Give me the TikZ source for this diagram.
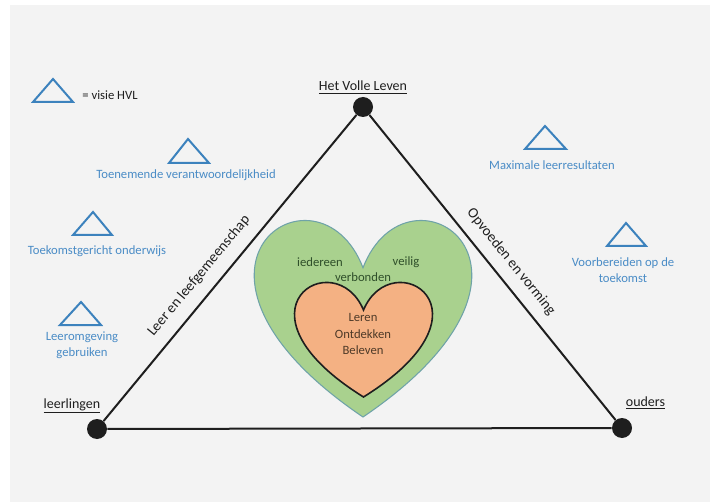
\documentclass[tikz,border=0pt]{standalone}
\usepackage{fontspec}
\setmainfont{Carlito}
\usetikzlibrary{calc}
\definecolor{paper}{HTML}{F3F3F3}
\definecolor{visblue}{HTML}{3C82BD}
\definecolor{vistext}{HTML}{4A8CC6}
\definecolor{heartgreen}{HTML}{A9D18E}
\definecolor{heartedge}{HTML}{6FA3A8}
\definecolor{heartorange}{HTML}{F4B183}
\definecolor{greentext}{HTML}{2F4F2A}
\definecolor{browntext}{HTML}{4E3A28}
\definecolor{inkline}{HTML}{1E1E1E}
\tikzset{
  vistri/.style={draw=visblue, line width=1.5pt, line join=miter},
  vislabel/.style={text=vistext, font=\fontsize{9.5}{12}\selectfont, align=center, inner sep=0pt},
  vertexdot/.style={circle, fill=inkline, minimum size=15pt, inner sep=0pt},
  edgeline/.style={draw=inkline, line width=1.5pt},
  cornerlabel/.style={text=inkline, font=\fontsize{10.5}{12}\selectfont, inner sep=0pt, anchor=base},
  edgelabel/.style={text=inkline, font=\fontsize{11}{13}\selectfont, inner sep=0pt},
  hearttext/.style={font=\fontsize{9.5}{12.4}\selectfont, inner sep=0pt, align=center},
}
\begin{document}
\begin{tikzpicture}[x=0.75pt,y=-0.75pt]
% page
\fill[white] (0,0) rectangle (710,502);
\fill[paper] (10,5) rectangle (710,502);
\useasboundingbox (0,0) rectangle (710,502);

% vertices
\node[vertexdot] (hvl) at (363,107) {};
\node[vertexdot] (ll) at (97,429) {};
\node[vertexdot] (ou) at (622,428) {};
\draw[edgeline] (ll) -- (hvl);
\draw[edgeline] (hvl) -- (ou);
\draw[edgeline] (ll) -- (ou);

% corner labels
\node[cornerlabel] (lhvl) at (363,91) {\underline{Het Volle Leven}};
\node[cornerlabel] (lll) at (72,408) {\underline{leerlingen}};
\node[cornerlabel] (lou) at (645.5,406) {\underline{ouders}};

% edge labels
\node[edgelabel, rotate=50.4] (lleer) at (199,276) {Leer en leefgemeenschap};
\node[edgelabel, rotate=-51.1] (lopv) at (511,262) {Opvoeden en vorming};

% hearts
\filldraw[fill=heartgreen, draw=heartedge, line width=0.8pt]
  (363,267.75) .. controls (408,151.7) and (583.5,267.75) .. (363,417)
  .. controls (142.5,267.75) and (318,151.7) .. (363,267.75) -- cycle;
\filldraw[fill=heartorange, draw=inkline, line width=1.2pt]
  (363.5,310) .. controls (392.04,242.33) and (503.35,310) .. (363.5,397)
  .. controls (223.65,310) and (334.96,242.33) .. (363.5,310) -- cycle;

\node[hearttext, text=greentext] (iedereen) at (320,262) {iedereen};
\node[hearttext, text=greentext] (veilig) at (406,262) {veilig};
\node[hearttext, text=greentext] (verbonden) at (363,277) {verbonden};
\node[hearttext, text=browntext] (core) at (363,334) {Leren\\Ontdekken\\Beleven};

% vision triangles
\draw[vistri] (53,79) -- (73,102) -- (33,102) -- cycle;
\node[text=inkline, font=\fontsize{9.5}{12}\selectfont, inner sep=0pt] (legend) at (110,95) {= visie HVL};

\draw[vistri] (188,139) -- (209,163) -- (169,163) -- cycle;
\node[vislabel] (v1) at (186,175) {Toenemende verantwoordelijkheid};

\draw[vistri] (93,212) -- (112,235) -- (73,235) -- cycle;
\node[vislabel] (v2) at (97,251) {Toekomstgericht onderwijs};

\draw[vistri] (81,302) -- (101,325) -- (60,325) -- cycle;
\node[vislabel] (v3) at (82,345) {Leeromgeving\\gebruiken};

\draw[vistri] (545,126) -- (566,149) -- (525,149) -- cycle;
\node[vislabel] (v4) at (552,165) {Maximale leerresultaten};

\draw[vistri] (626,223) -- (646,246) -- (607,246) -- cycle;
\node[vislabel] (v5) at (623,270) {Voorbereiden op de\\toekomst};
\end{tikzpicture}
\end{document}
